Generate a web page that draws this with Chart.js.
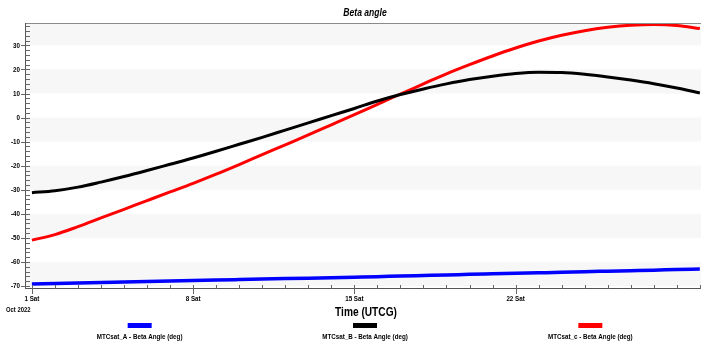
<!DOCTYPE html>
<html>
<head>
<meta charset="utf-8">
<script src="https://cdn.jsdelivr.net/npm/chart.js@4/dist/chart.umd.min.js"></script>
<style>
  html, body { margin: 0; padding: 0; background: #fff; }
  #wrap { width: 701px; height: 345px; position: relative; }
</style>
</head>
<body>
<div id="wrap"><canvas id="c" width="701" height="345"></canvas></div>
<script>
// ---- data ----
const days = [1,2,3,4,5,6,7,8,9,10,11,12,13,14,15,16,17,18,19,20,21,22,23,24,25,26,27,28,29,30];
const satA = [-69.1,-68.9,-68.7,-68.5,-68.3,-68.1,-67.9,-67.7,-67.5,-67.3,-67.1,-66.9,-66.7,-66.5,-66.3,
              -66.1,-65.8,-65.6,-65.4,-65.1,-64.9,-64.7,-64.5,-64.3,-64.0,-63.8,-63.6,-63.4,-63.1,-62.9];
const satB = [-31.2,-30.4,-28.9,-26.8,-24.5,-22.0,-19.4,-16.8,-14.0,-11.1,-8.2,-5.2,-2.2,0.8,3.8,
              6.9,9.6,11.9,14.0,15.8,17.2,18.3,18.8,18.7,18.0,16.9,15.6,14.1,12.3,10.2];
const satC = [-50.9,-48.6,-45.3,-41.7,-38.1,-34.5,-30.9,-27.3,-23.5,-19.5,-15.4,-11.3,-7.2,-3.0,1.2,
              5.5,9.8,14.0,18.2,22.0,25.6,28.9,31.8,34.2,36.1,37.5,38.4,38.7,38.3,37.0];
const seriesNames = ['MTCsat_A - Beta Angle (deg)', 'MTCsat_B - Beta Angle (deg)', 'MTCsat_c - Beta Angle (deg)'];
const seriesColors = ['#0000ff', '#000000', '#ff0000'];
const xTickDays = [1, 8, 15, 22];
const xTickLabels = ['1 Sat', '8 Sat', '15 Sat', '22 Sat'];
const yTicks = [-70, -60, -50, -40, -30, -20, -10, 0, 10, 20, 30];
const chartTitle = 'Beta angle';
const xAxisTitle = 'Time (UTCG)';
const dateLabel = 'Oct 2022';

const FONT = '"Liberation Sans", Arial, sans-serif';
const SX = 0.78; // horizontal condensing to mimic a narrow face

function pts(vals) { return days.map((d, i) => ({ x: d, y: vals[i] })); }

function narrowText(ctx, text, x, y, align, font) {
  ctx.save();
  ctx.font = font;
  ctx.textAlign = align;
  ctx.textBaseline = 'middle';
  ctx.translate(x, y);
  ctx.scale(SX, 1);
  ctx.fillText(text, 0, 0);
  ctx.restore();
}

const decor = {
  id: 'decor',
  beforeDatasetsDraw(chart) {
    const { ctx, chartArea: a, scales: { y } } = chart;
    ctx.save();
    ctx.fillStyle = '#f7f7f7';
    const all = yTicks.concat([yTicks[yTicks.length - 1] + 10]);
    for (const t of all) {
      if (Math.abs(Math.floor(t / 10)) % 2 === 1) {
        const y1 = Math.max(a.top, y.getPixelForValue(t + 10));
        const y2 = Math.min(a.bottom, y.getPixelForValue(t));
        if (y2 > y1) ctx.fillRect(a.left, y1, a.right - a.left, y2 - y1);
      }
    }
    ctx.restore();
  },
  afterDraw(chart) {
    const { ctx, chartArea: a, scales: { x, y } } = chart;
    ctx.save();
    // frame
    ctx.lineWidth = 1;
    ctx.strokeStyle = '#8a8a8a';
    ctx.beginPath();
    ctx.moveTo(a.left, a.top + 0.5); ctx.lineTo(a.right, a.top + 0.5);
    ctx.stroke();
    ctx.strokeStyle = '#555';
    ctx.beginPath();
    ctx.moveTo(a.left + 0.5, a.top); ctx.lineTo(a.left + 0.5, a.bottom + 1);
    ctx.moveTo(a.left, a.bottom + 0.5); ctx.lineTo(a.right, a.bottom + 0.5);
    ctx.stroke();
    // y ticks
    ctx.strokeStyle = '#666';
    ctx.beginPath();
    for (let v = yTicks[0]; v <= y.max; v += 2) {
      const py = Math.round(y.getPixelForValue(v)) + 0.5;
      const major = yTicks.includes(v);
      ctx.moveTo(a.left - (major ? 4 : 0), py);
      ctx.lineTo(a.left + 5, py);
    }
    // x ticks
    for (const d of days) {
      const px = Math.round(x.getPixelForValue(d)) + 0.5;
      const major = xTickDays.includes(d);
      ctx.moveTo(px, a.bottom - 3);
      ctx.lineTo(px, a.bottom + (major ? 6 : 1));
    }
    ctx.stroke();

    ctx.fillStyle = '#000';
    // tick labels
    const tickFont = 'bold 8px ' + FONT;
    yTicks.forEach(v => narrowText(ctx, String(v), a.left - 5, y.getPixelForValue(v), 'right', tickFont));
    xTickDays.forEach((d, i) => narrowText(ctx, xTickLabels[i], x.getPixelForValue(d), a.bottom + 11, 'center', tickFont));
    narrowText(ctx, dateLabel, 6, 310, 'left', 'bold 7.5px ' + FONT);

    // titles
    narrowText(ctx, chartTitle, (a.left + a.right) / 2 + 2, 13, 'center', 'italic bold 11px ' + FONT);
    narrowText(ctx, xAxisTitle, (a.left + a.right) / 2 + 3, 312, 'center', 'bold 13px ' + FONT);

    // legend
    const step = (a.right - a.left) / 3;
    chart.data.datasets.forEach((ds, i) => {
      const cx = a.left + step * (i + 0.5) + 2;
      ctx.fillStyle = ds.borderColor;
      ctx.fillRect(cx - 12, 323, 24, 5);
      ctx.fillStyle = '#000';
      narrowText(ctx, ds.label, cx, 337, 'center', 'bold 8px ' + FONT);
    });
    ctx.restore();
  }
};

new Chart(document.getElementById('c'), {
  type: 'line',
  data: {
    datasets: [
      { label: seriesNames[0], data: pts(satA), borderColor: seriesColors[0], borderWidth: 3.5 },
      { label: seriesNames[1], data: pts(satB), borderColor: seriesColors[1], borderWidth: 3 },
      { label: seriesNames[2], data: pts(satC), borderColor: seriesColors[2], borderWidth: 3 }
    ]
  },
  options: {
    responsive: false,
    animation: false,
    devicePixelRatio: 1,
    layout: { padding: { top: 23, right: 0, left: 25, bottom: 57 } },
    elements: {
      point: { radius: 0 },
      line: { cubicInterpolationMode: 'monotone', fill: false, borderCapStyle: 'butt' }
    },
    plugins: { legend: { display: false }, title: { display: false }, tooltip: { enabled: false } },
    scales: {
      x: {
        type: 'linear',
        min: 0.7,
        max: 30.05,
        display: false
      },
      y: {
        min: -70.8,
        max: 39.3,
        display: false
      }
    }
  },
  plugins: [decor]
});
</script>
</body>
</html>
